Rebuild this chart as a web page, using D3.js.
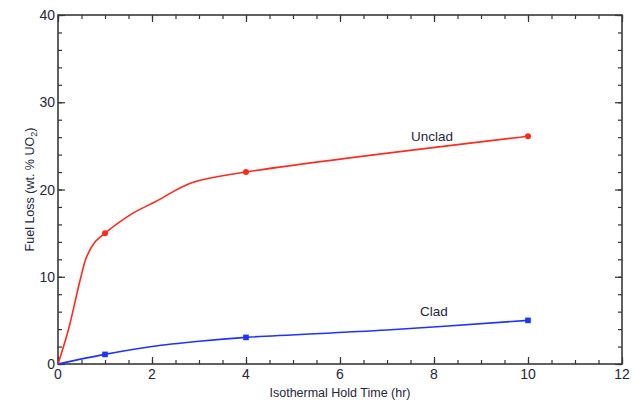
<!DOCTYPE html>
<html>
<head>
<meta charset="utf-8">
<script src="https://cdn.jsdelivr.net/npm/d3@7"></script>
<style>
  body { margin: 0; background: #fff; }
  text { font-family: "Liberation Sans", Arial, sans-serif; fill: #26263a; }
</style>
</head>
<body>
<div id="chart"></div>
<script>
// measured points (markers)
const hours = [1, 4, 10]
const uncladLoss = [15, 22, 26.1]
const cladLoss = [1.1, 3.05, 5.0]

// curve traces
const uncladCurveX = [0, 0.22, 0.47, 0.61, 0.79, 1, 1.57, 2.07, 2.86, 4, 10]
const uncladCurveY = [0, 3.9, 9.6, 12.3, 14.0, 15, 17.2, 18.6, 20.8, 22, 26.1]
const cladCurveX = [0, 1, 2, 3, 4, 7, 10]
const cladCurveY = [0, 1.1, 2.0, 2.6, 3.05, 3.9, 5.0]

const xTicks = [0, 2, 4, 6, 8, 10, 12]
const yTicks = [0, 10, 20, 30, 40]

const width = 638, height = 401
const plotL = 58, plotR = 622, plotT = 15, plotB = 364

const svg = d3.select("#chart").append("svg")
    .attr("width", width).attr("height", height)

const x = d3.scaleLinear().domain([0, 12]).range([plotL, plotR])
const y = d3.scaleLinear().domain([0, 40]).range([plotB, plotT])

// minor + major ticks, pointing inward on all four sides
const xMinor = d3.range(0, 12.01, 0.5)
const yMinor = d3.range(0, 40.01, 2)

function tickAxis(axisFn, scale, values, size) {
    return axisFn(scale).tickValues(values).tickSize(size).tickFormat("")
}

const axG = svg.append("g").attr("class", "axes")

axG.append("g").attr("transform", `translate(0,${plotB})`)
    .call(tickAxis(d3.axisTop, x, xMinor, 4))
axG.append("g").attr("transform", `translate(0,${plotB})`)
    .call(tickAxis(d3.axisTop, x, xTicks, 7))
axG.append("g").attr("transform", `translate(0,${plotT})`)
    .call(tickAxis(d3.axisBottom, x, xMinor, 4))
axG.append("g").attr("transform", `translate(0,${plotT})`)
    .call(tickAxis(d3.axisBottom, x, xTicks, 7))
axG.append("g").attr("transform", `translate(${plotL},0)`)
    .call(tickAxis(d3.axisRight, y, yMinor, 4))
axG.append("g").attr("transform", `translate(${plotL},0)`)
    .call(tickAxis(d3.axisRight, y, yTicks, 7))
axG.append("g").attr("transform", `translate(${plotR},0)`)
    .call(tickAxis(d3.axisLeft, y, yMinor, 4))
axG.append("g").attr("transform", `translate(${plotR},0)`)
    .call(tickAxis(d3.axisLeft, y, yTicks, 7))

axG.selectAll(".domain").remove()
axG.selectAll(".tick line").attr("stroke", "#333").attr("stroke-width", 1.2)

// frame
svg.append("rect")
    .attr("x", plotL).attr("y", plotT)
    .attr("width", plotR - plotL).attr("height", plotB - plotT)
    .attr("fill", "none").attr("stroke", "#3a3a3a").attr("stroke-width", 1.6)

// tick labels
svg.append("g").selectAll("text")
    .data(xTicks).enter().append("text")
    .attr("x", d => x(d)).attr("y", plotB + 15)
    .attr("text-anchor", "middle")
    .style("font-size", "14px")
    .text(d => d)

svg.append("g").selectAll("text")
    .data(yTicks).enter().append("text")
    .attr("x", plotL - 3).attr("y", d => y(d) + 5)
    .attr("text-anchor", "end")
    .style("font-size", "14px")
    .text(d => d)

// axis titles
svg.append("text")
    .attr("x", (plotL + plotR) / 2).attr("y", 397)
    .attr("text-anchor", "middle")
    .style("font-size", "12.5px")
    .text("Isothermal Hold Time (hr)")

const yt = svg.append("text")
    .attr("transform", `translate(34,${(plotT + plotB) / 2}) rotate(-90)`)
    .attr("text-anchor", "middle")
    .style("font-size", "12.5px")
yt.append("tspan").text("Fuel Loss (wt. % UO")
yt.append("tspan").attr("dy", 3).style("font-size", "9px").text("2")
yt.append("tspan").attr("dy", -3).text(")")

// curves
const line = d3.line().x(d => x(d[0])).y(d => y(d[1])).curve(d3.curveCatmullRom.alpha(0.5))

svg.append("path")
    .datum(d3.zip(uncladCurveX, uncladCurveY))
    .attr("d", line)
    .attr("fill", "none").attr("stroke", "#ff2a1f").attr("stroke-width", 1.6)

svg.append("path")
    .datum(d3.zip(cladCurveX, cladCurveY))
    .attr("d", line)
    .attr("fill", "none").attr("stroke", "#1f33ff").attr("stroke-width", 1.6)

// markers
svg.append("g").selectAll("circle")
    .data(d3.zip(hours, uncladLoss)).enter().append("circle")
    .attr("cx", d => x(d[0])).attr("cy", d => y(d[1]))
    .attr("r", 3).attr("fill", "#ff2a1f")

svg.append("g").selectAll("rect")
    .data(d3.zip(hours, cladLoss)).enter().append("rect")
    .attr("x", d => x(d[0]) - 2.8).attr("y", d => y(d[1]) - 2.8)
    .attr("width", 5.6).attr("height", 5.6).attr("fill", "#1f33ff")

// series labels
svg.append("text")
    .attr("x", 411).attr("y", 141)
    .style("font-size", "13.5px")
    .text("Unclad")

svg.append("text")
    .attr("x", 420).attr("y", 316)
    .style("font-size", "13.5px")
    .text("Clad")
</script>
</body>
</html>
